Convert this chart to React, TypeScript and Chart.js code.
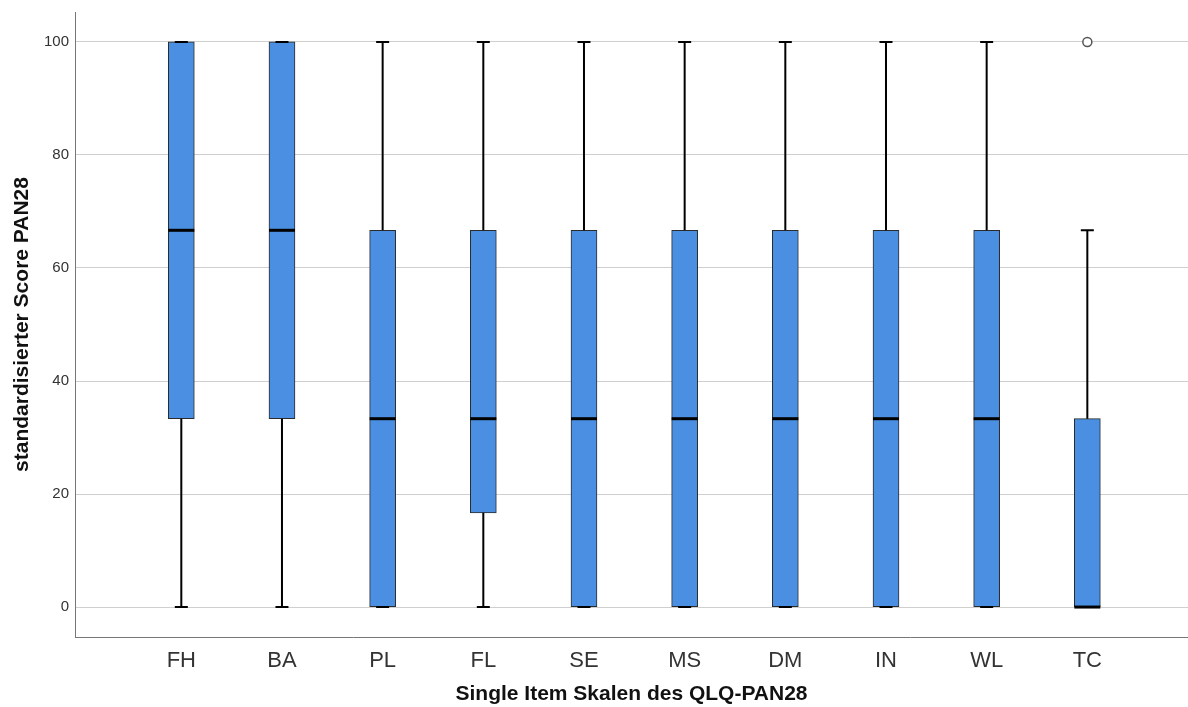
import { useEffect, useRef } from "react";
import { Chart, registerables } from "chart.js";

Chart.register(...registerables);

const categories = ["FH", "BA", "PL", "FL", "SE", "MS", "DM", "IN", "WL", "TC"];
const minValues = [0, 0, 0, 0, 0, 0, 0, 0, 0, 0];
const q1Values = [33.33, 33.33, 0, 16.67, 0, 0, 0, 0, 0, 0];
const medianValues = [66.67, 66.67, 33.33, 33.33, 33.33, 33.33, 33.33, 33.33, 33.33, 0];
const q3Values = [100, 100, 66.67, 66.67, 66.67, 66.67, 66.67, 66.67, 66.67, 33.33];
const maxValues = [100, 100, 100, 100, 100, 100, 100, 100, 100, 66.67];
const outlierCategories = ["TC"];
const outlierValues = [100];
const yTicks = [0, 20, 40, 60, 80, 100];

const xTitle = "Single Item Skalen des QLQ-PAN28";
const yTitle = "standardisierter Score PAN28";

const BOX_WIDTH = 26;
const CAP_WIDTH = 13;

const boxPlotPlugin = {
  id: "boxPlotWhiskers",
  afterDatasetsDraw(chart: any) {
    const { ctx, scales } = chart;
    const x = scales.x;
    const y = scales.y;
    ctx.save();
    ctx.strokeStyle = "#000000";
    ctx.lineCap = "butt";
    categories.forEach((_, i) => {
      const px = x.getPixelForValue(i);
      const pMin = y.getPixelForValue(minValues[i]);
      const pQ1 = y.getPixelForValue(q1Values[i]);
      const pMed = y.getPixelForValue(medianValues[i]);
      const pQ3 = y.getPixelForValue(q3Values[i]);
      const pMax = y.getPixelForValue(maxValues[i]);
      ctx.lineWidth = 2;
      ctx.beginPath();
      if (maxValues[i] > q3Values[i]) {
        ctx.moveTo(px, pQ3);
        ctx.lineTo(px, pMax);
      }
      if (minValues[i] < q1Values[i]) {
        ctx.moveTo(px, pQ1);
        ctx.lineTo(px, pMin);
      }
      ctx.moveTo(px - CAP_WIDTH / 2, pMax);
      ctx.lineTo(px + CAP_WIDTH / 2, pMax);
      ctx.moveTo(px - CAP_WIDTH / 2, pMin);
      ctx.lineTo(px + CAP_WIDTH / 2, pMin);
      ctx.stroke();
      ctx.lineWidth = 3;
      ctx.beginPath();
      ctx.moveTo(px - BOX_WIDTH / 2, pMed);
      ctx.lineTo(px + BOX_WIDTH / 2, pMed);
      ctx.stroke();
    });
    ctx.restore();
  },
};

export default function App() {
  const canvasRef = useRef<HTMLCanvasElement | null>(null);

  useEffect(() => {
    if (!canvasRef.current) return;
    const chart = new Chart(canvasRef.current, {
      type: "bar",
      data: {
        datasets: [
          {
            type: "bar",
            label: "Box",
            data: categories.map((_, i) => ({ x: i, y: [q1Values[i], q3Values[i]] })) as any,
            backgroundColor: "#4a8fe1",
            borderColor: "#2b2b2b",
            borderWidth: 1,
            borderSkipped: false,
            barThickness: BOX_WIDTH,
          } as any,
          {
            type: "scatter",
            label: "Ausreißer",
            data: outlierCategories.map((c, i) => ({ x: categories.indexOf(c), y: outlierValues[i] })),
            pointStyle: "circle",
            pointRadius: 4.5,
            pointBorderWidth: 1.5,
            pointBorderColor: "#555555",
            pointBackgroundColor: "#ffffff",
          } as any,
        ],
      },
      options: {
        animation: false,
        responsive: true,
        maintainAspectRatio: false,
        layout: { autoPadding: false, padding: { top: 12, right: 0, bottom: 0, left: 0 } },
        plugins: {
          legend: { display: false },
          tooltip: { enabled: false },
        },
        scales: {
          x: {
            type: "linear",
            offset: false,
            min: -1.056,
            max: 10,
            afterBuildTicks: (scale: any) => {
              scale.ticks = categories.map((_, i) => ({ value: i }));
            },
            afterFit: (scale: any) => {
              scale.height = 70;
              scale.paddingLeft = 0;
              scale.paddingRight = 0;
            },
            grid: { display: false, drawTicks: false, offset: false },
            border: { display: true, color: "#777777", width: 1 },
            ticks: {
              autoSkip: false,
              maxRotation: 0,
              padding: 11,
              color: "#333333",
              font: { family: "'Liberation Sans', Arial, sans-serif", size: 22 },
              callback: (v: any) => categories[Math.round(Number(v))] ?? "",
            },
            title: {
              display: true,
              text: xTitle,
              color: "#111111",
              padding: { top: 0, bottom: 0 },
              font: { family: "'Liberation Sans', Arial, sans-serif", size: 21, weight: "bold" },
            },
          },
          y: {
            type: "linear",
            min: -5.3,
            max: 105.3,
            afterBuildTicks: (scale: any) => {
              scale.ticks = yTicks.map((v) => ({ value: v }));
            },
            afterFit: (scale: any) => {
              scale.width = 75;
              scale.paddingTop = 0;
              scale.paddingBottom = 0;
            },
            grid: { display: true, drawTicks: false, color: "#cfcfcf", lineWidth: 1 },
            border: { display: true, color: "#777777", width: 1 },
            ticks: {
              padding: 6,
              color: "#333333",
              font: { family: "'Liberation Sans', Arial, sans-serif", size: 15 },
              callback: (v: any) => String(v),
            },
            title: {
              display: true,
              text: yTitle,
              color: "#111111",
              padding: { top: 10, bottom: 0 },
              font: { family: "'Liberation Sans', Arial, sans-serif", size: 21, weight: "bold" },
            },
          },
        },
      } as any,
      plugins: [boxPlotPlugin],
    });
    return () => chart.destroy();
  }, []);

  return (
    <div style={{ position: "fixed", left: 0, top: 0, width: 1188, height: 707, background: "#ffffff" }}>
      <canvas ref={canvasRef} />
    </div>
  );
}
